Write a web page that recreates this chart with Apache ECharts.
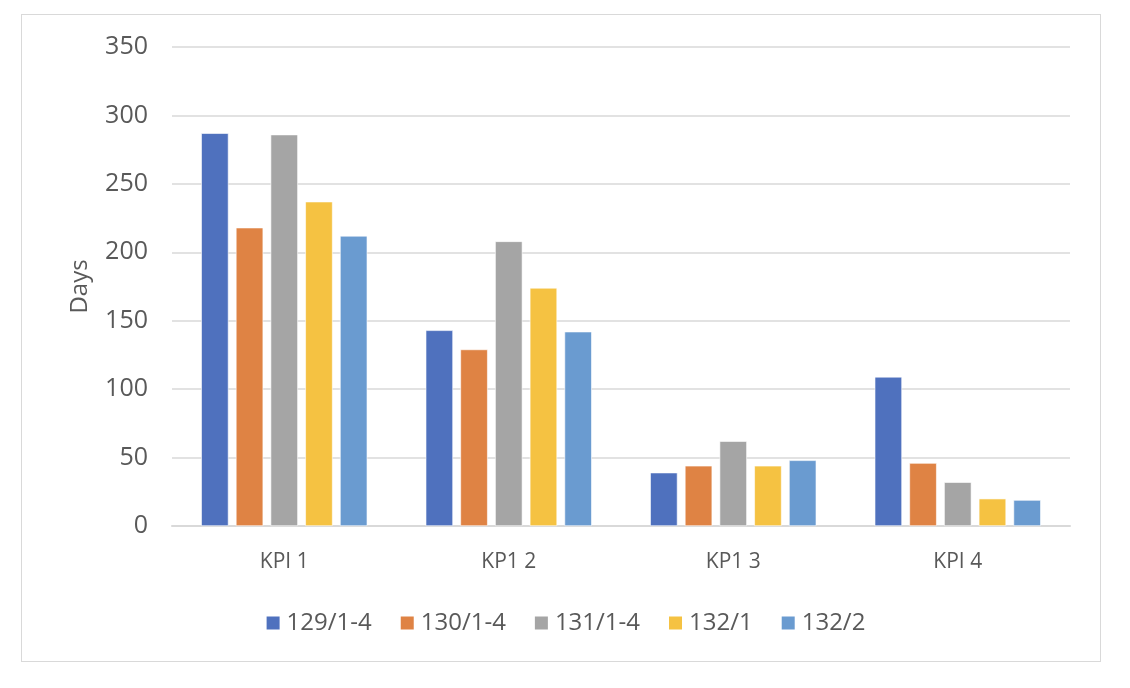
<!DOCTYPE html>
<html>
<head>
<meta charset="utf-8">
<script src="https://cdn.jsdelivr.net/npm/echarts@6/dist/echarts.min.js"></script>
<style>
  html, body { margin: 0; padding: 0; background: #fff; }
  #frame {
    position: absolute; left: 21px; top: 14px; width: 1080px; height: 648px;
    border: 1.5px solid #d9d9d9; box-sizing: border-box;
  }
  #bar-chart { position: absolute; left: 0; top: 0; width: 1130px; height: 688px; }
</style>
</head>
<body>
<div id="frame"></div>
<div id="bar-chart"></div>
<script>
const categories = ["KPI 1", "KP1 2", "KP1 3", "KPI 4"];
const seriesNames = ["129/1-4", "130/1-4", "131/1-4", "132/1", "132/2"];
const colors = ["#4f71be", "#df8344", "#a5a5a5", "#f5c242", "#6a9bd0"];

const s129 = [287, 143, 39, 109];
const s130 = [218, 129, 44, 46];
const s131 = [286, 208, 62, 32];
const s1321 = [237, 174, 44, 20];
const s1322 = [212, 142, 48, 19];
const values = [s129, s130, s131, s1321, s1322];

const yTicks = { min: 0, max: 350, interval: 50 };

const chart = echarts.init(document.getElementById("bar-chart"));
const font = "'Open Sans', 'Noto Sans', sans-serif";

const option = {
  animation: false,
  textStyle: { fontFamily: font },
  grid: { left: 172, right: 60, top: 47, bottom: 162, containLabel: false },
  legend: {
    top: 606,
    left: "center",
    itemWidth: 15,
    itemHeight: 15,
    itemGap: 27,
    icon: "rect",
    textStyle: { color: "#595959", fontSize: 24, fontFamily: font, padding: [0, 0, 0, 1] },
    data: seriesNames
  },
  xAxis: {
    type: "category",
    data: categories,
    axisLine: { lineStyle: { color: "#d9d9d9", width: 2 } },
    axisTick: { show: false },
    axisLabel: { color: "#595959", fontSize: 21, margin: 26, fontFamily: font }
  },
  yAxis: {
    type: "value",
    min: yTicks.min,
    max: yTicks.max,
    interval: yTicks.interval,
    name: "Days",
    nameLocation: "middle",
    nameGap: 80,
    nameTextStyle: { color: "#595959", fontSize: 24, fontFamily: font },
    axisLine: { show: false },
    axisTick: { show: false },
    axisLabel: { color: "#595959", fontSize: 25, margin: 24, fontFamily: font },
    splitLine: { lineStyle: { color: "#d9d9d9", width: 1.5 } }
  },
  series: seriesNames.map((name, i) => ({
    name: name,
    type: "bar",
    data: values[i],
    barGap: "27%",
    barCategoryGap: "26%",
    itemStyle: { color: colors[i], borderColor: "#ffffff", borderWidth: 0.6 }
  }))
};

chart.setOption(option);
</script>
</body>
</html>
